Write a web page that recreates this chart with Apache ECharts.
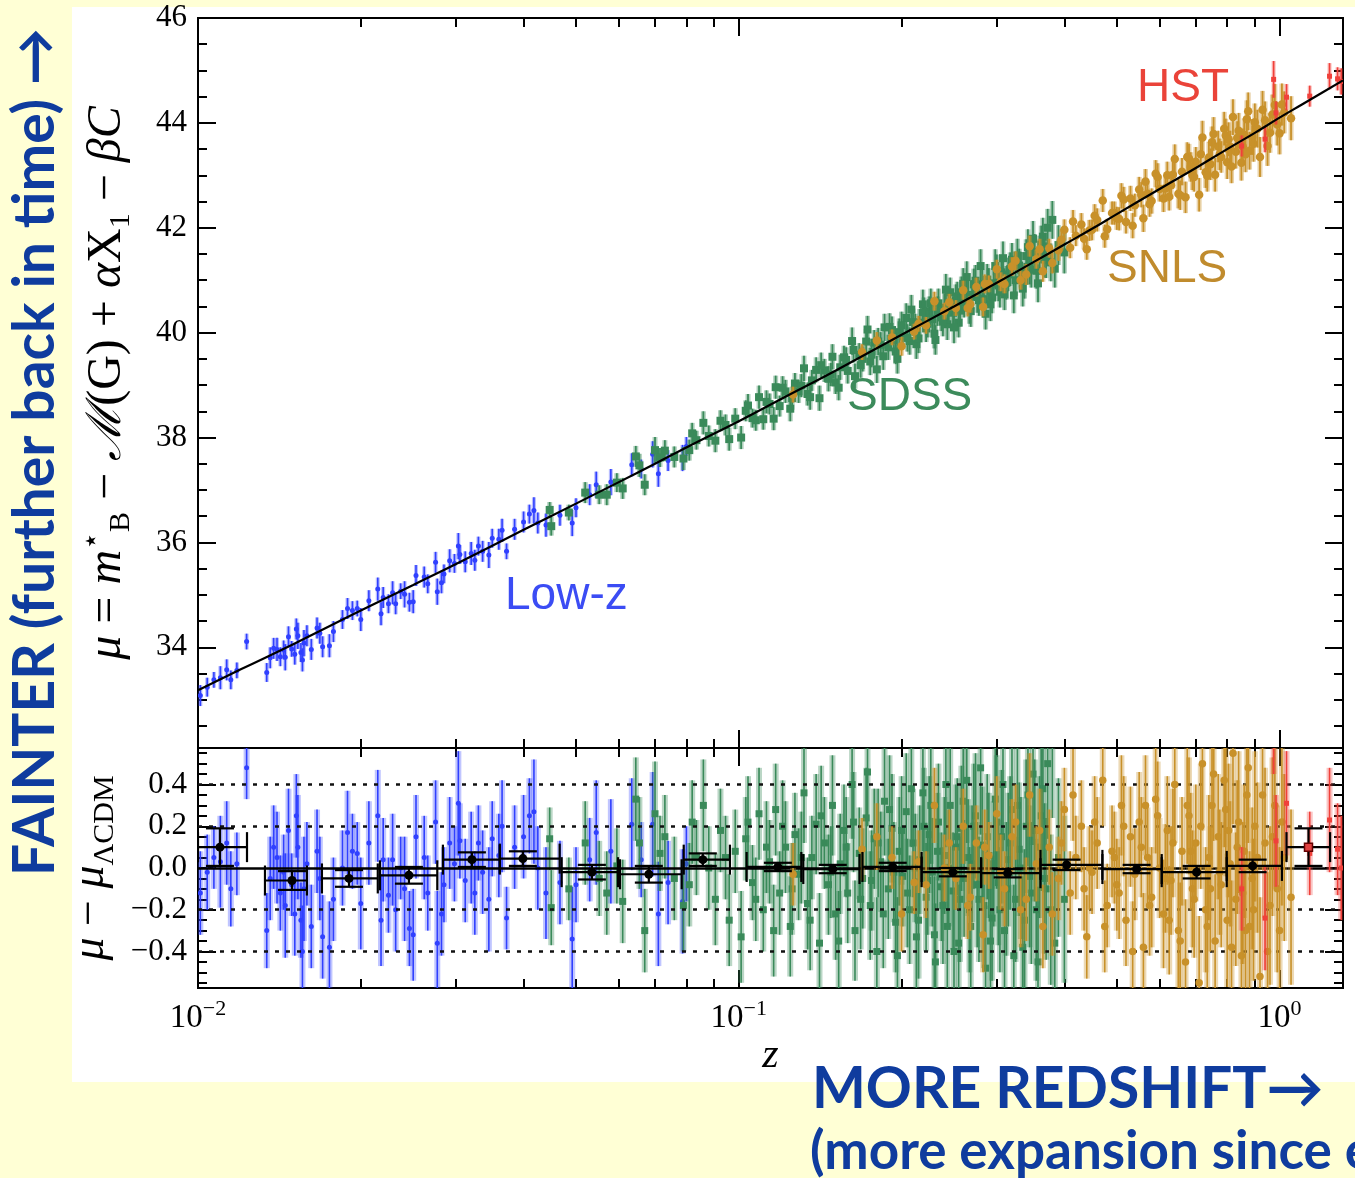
<!DOCTYPE html>
<html><head><meta charset="utf-8">
<script src="https://cdn.jsdelivr.net/npm/echarts@6/dist/echarts.min.js"></script>
<style>
html,body{margin:0;padding:0;background:#FFFFD5;overflow:hidden;}
#panel{position:absolute;left:72px;top:7px;width:1283px;height:1075px;background:#fff;}
#c{position:absolute;left:0;top:0;width:1355px;height:1178px;}
</style>
</head><body><div id="panel"></div><div id="c"></div>
<script>
// ---------- axis ranges & ticks ----------
const xMin = 0.01, xMax = 1.31;
const muMin = 32.08, muMax = 46;
const resMin = -0.575, resMax = 0.575;
const xMajor = [0.01, 0.1, 1];
const xMinor = [0.02,0.03,0.04,0.05,0.06,0.07,0.08,0.09,0.2,0.3,0.4,0.5,0.6,0.7,0.8,0.9];
const xExp = ['−2','−1','0'];
const muMajor = [34,36,38,40,42,44,46];
const muMinor = [32.5,33,33.5,34.5,35,35.5,36.5,37,37.5,38.5,39,39.5,40.5,41,41.5,42.5,43,43.5,44.5,45,45.5];
const resMajor = [-0.4,-0.2,0,0.2,0.4];
const resMinor = [-0.55,-0.5,-0.45,-0.35,-0.3,-0.25,-0.15,-0.1,-0.05,0.05,0.1,0.15,0.25,0.3,0.35,0.45,0.5,0.55];
const resDotted = [0.4,0.2,-0.2,-0.4];

// ---------- LCDM curve ----------
const curveZ  = [0.01,0.012,0.015,0.02,0.025,0.03,0.04,0.05,0.06,0.07,0.08,0.1,0.12,0.15,0.2,0.25,0.3,0.35,0.4,0.45,0.5,0.6,0.7,0.8,0.9,1.0,1.1,1.2,1.31];
const curveMu = [33.18,33.58,34.06,34.70,35.19,35.59,36.24,36.74,37.15,37.50,37.81,38.31,38.74,39.26,39.96,40.50,40.95,41.34,41.68,41.98,42.26,42.74,43.14,43.50,43.81,44.10,44.35,44.58,44.81];

// ---------- Low-z ----------
const lowzZ = [0.0101,0.0104,0.0107,0.0110,0.0113,0.0118,0.0123,0.0134,0.0136,0.0140,0.0142,0.0145,0.0147,0.0149,0.0151,0.0153,0.0155,0.0157,0.0159,0.0162,0.0166,0.0170,0.0175,0.0178,0.0189,0.0193,0.0197,0.0200,0.0215,0.0220,0.0225,0.0229,0.0232,0.0237,0.0241,0.0246,0.0250,0.0262,0.0266,0.0275,0.0277,0.0285,0.0292,0.0303,0.0305,0.0312,0.0320,0.0330,0.0336,0.0345,0.0350,0.0360,0.0372,0.0385,0.0400,0.0410,0.0418,0.0425,0.0467,0.0492,0.0500,0.0530,0.0545,0.0634,0.0660,0.0693,0.0740,0.0787,0.0800,
0.0115,0.0138,0.0144,0.0152,0.0156,0.0168,0.0185,0.0207,0.0218,0.0253,0.0282,0.0298,0.0325,0.0365,0.0440,0.0580,0.0710];
const lowzMu = [33.08,33.24,33.38,33.42,33.57,33.56,34.11,33.52,33.80,33.96,33.82,33.81,34.20,33.97,33.87,34.22,33.90,34.08,34.22,33.96,34.37,34.01,34.03,34.30,34.74,34.70,34.74,34.53,35.11,34.95,34.83,35.04,34.83,35.07,35.01,34.86,34.87,35.34,35.21,35.62,35.06,35.40,35.65,35.93,35.77,35.63,35.79,35.93,35.83,35.76,36.08,36.06,35.83,36.25,36.39,36.54,36.61,36.37,36.52,36.37,36.66,36.91,37.10,37.48,37.40,37.68,37.56,37.61,37.83,
33.38,33.98,33.95,34.35,33.76,34.27,34.53,34.89,34.64,35.37,35.23,35.60,35.66,36.23,36.33,37.15,37.31];
const lowzRes = [-0.12,-0.02,0.05,0.03,0.12,0.02,0.48,-0.30,-0.05,0.05,-0.12,-0.18,0.18,-0.08,-0.22,0.10,-0.25,-0.10,0.02,-0.28,0.08,-0.33,-0.38,-0.15,0.17,0.08,0.07,-0.17,0.25,0.04,-0.13,0.04,-0.20,0.00,-0.10,-0.29,-0.32,0.05,-0.12,0.22,-0.36,-0.08,0.12,0.31,0.13,-0.06,0.05,0.12,-0.02,-0.15,0.14,0.06,-0.24,0.10,0.15,0.25,0.27,0.00,-0.07,-0.34,-0.08,0.04,0.17,0.21,0.04,0.21,-0.07,-0.16,0.02,
-0.10,0.10,-0.02,0.25,-0.40,-0.05,0.00,0.12,-0.25,0.15,-0.22,0.02,-0.12,0.20,-0.12,0.08,-0.22];
const lowzErr = [0.20,0.18,0.15,0.22,0.20,0.15,0.15,0.18,0.20,0.22,0.18,0.25,0.20,0.15,0.20,0.25,0.18,0.25,0.20,0.20,0.20,0.20,0.22,0.20,0.20,0.18,0.15,0.22,0.22,0.20,0.18,0.22,0.20,0.15,0.25,0.18,0.22,0.20,0.18,0.20,0.25,0.18,0.22,0.25,0.18,0.20,0.22,0.18,0.20,0.25,0.18,0.20,0.15,0.20,0.20,0.18,0.25,0.20,0.20,0.25,0.18,0.20,0.25,0.22,0.18,0.25,0.20,0.25,0.18,
0.18,0.20,0.18,0.20,0.22,0.20,0.18,0.20,0.22,0.20,0.20,0.18,0.20,0.22,0.22,0.25,0.25];

// ---------- SDSS ----------
const sdssZ = [0.0447,0.0450,0.0485,0.0520,0.0552,0.0570,0.0595,0.0610,0.0645,0.0655,
0.0670,0.0700,0.0715,0.0760,0.0790,0.0820,0.0835,0.0860,0.0880,0.0905,
0.0925,0.0960,0.0985,0.1010,0.1030,0.1060,0.1090,0.1110,0.1140,0.1170,
0.1190,0.1220,0.1245,0.1270,0.1290,0.1320,0.1340,0.1365,0.1390,0.1410,
0.1440,0.1465,0.1490,0.1510,0.1540,0.1565,0.1590,0.1620,0.1640,0.1670,
0.1695,0.1720,0.1750,0.1780,0.1800,0.1830,0.1860,0.1890,0.1920,0.1950,
0.1980,0.2010,0.2040,0.2070,0.2100,0.2130,0.2160,0.2190,0.2220,0.2250,
0.2280,0.2310,0.2340,0.2370,0.2400,0.2430,0.2460,0.2490,0.2520,0.2550,
0.2580,0.2610,0.2640,0.2670,0.2700,0.2740,0.2780,0.2820,0.2860,0.2900,
0.2940,0.2980,0.3020,0.3060,0.3100,0.3150,0.3200,0.3250,0.3300,0.3350,
0.3400,0.3450,0.3500,0.3550,0.3600,0.3650,0.3700,0.3800,0.3840,0.3900,0.4000,
0.1205,0.1255,0.1305,0.1355,0.1420,0.1480,0.1530,0.1580,0.1630,0.1680,
0.1730,0.1760,0.1810,0.1850,0.1900,0.1935,0.1965,0.2000,0.2050,0.2085,
0.2120,0.2150,0.2200,0.2235,0.2265,0.2300,0.2330,0.2385,0.2415,0.2445,
0.2500,0.2535,0.2565,0.2600,0.2655,0.2685,0.2720,0.2760,0.2800,0.2840,
0.2880,0.2920,0.2960,0.3000,0.3040,0.3080,0.3125,0.3175,0.3225,0.3275,
0.3325,0.3375,0.3425,0.3475,0.3525,0.3575,0.3625,0.3675,0.3725,0.3775,
0.0730,0.0810,0.0945,0.1040,0.1075,0.1125,0.1160];
const sdssMu = [36.62,36.31,36.57,36.95,36.91,36.91,37.14,37.03,37.64,37.47,
37.10,37.76,37.62,37.63,37.60,38.08,37.95,38.28,38.03,37.94,
38.32,37.97,38.36,38.00,38.51,38.37,38.77,38.35,38.64,38.96,
38.60,38.88,38.55,39.03,38.88,39.32,38.83,39.09,39.29,38.75,
39.28,39.12,39.54,39.05,39.34,39.53,39.27,39.84,39.17,39.58,
39.50,39.83,39.45,39.81,39.30,39.77,40.10,39.72,40.05,39.64,
40.01,39.93,40.28,39.84,40.20,39.78,40.19,40.54,40.08,40.41,
40.26,39.86,40.56,40.29,40.47,40.16,40.77,40.38,40.62,40.19,
40.77,40.57,41.06,40.47,40.72,40.99,40.62,40.92,40.36,40.93,
40.67,41.27,40.90,41.15,40.73,41.11,41.39,41.00,41.28,40.84,
41.46,41.26,41.79,41.18,41.51,41.83,41.38,42.15,41.22,41.67,41.53,
38.95,38.75,38.99,38.77,39.38,39.20,38.95,39.48,39.67,39.38,
40.06,39.58,39.83,39.55,40.11,39.86,39.50,40.14,39.90,40.44,
40.10,39.89,40.39,40.17,40.56,39.98,40.41,40.21,40.82,40.45,
40.10,40.69,40.42,40.93,40.71,40.41,40.92,40.68,41.27,40.64,
41.01,40.54,40.94,41.17,40.78,41.42,40.95,41.21,40.71,41.47,
41.20,40.99,41.63,41.20,41.54,40.94,41.68,41.41,42.00,41.34,
37.75,37.76,38.24,38.61,38.33,38.68,38.36];
const sdssRes = [0.14,-0.19,-0.10,0.12,-0.05,-0.12,0.01,-0.16,0.33,0.12,
-0.30,0.26,0.07,-0.05,-0.18,0.22,0.05,0.30,0.00,-0.15,
0.18,-0.25,0.08,-0.33,0.14,-0.07,0.26,-0.20,0.03,0.28,
-0.12,0.10,-0.28,0.16,-0.03,0.36,-0.17,0.05,0.21,-0.36,
0.12,-0.08,0.30,-0.22,0.02,0.18,-0.12,0.40,-0.30,0.07,
-0.05,0.24,-0.18,0.14,-0.40,0.03,0.32,-0.10,0.19,-0.26,
0.08,-0.04,0.27,-0.20,0.12,-0.33,0.04,0.36,-0.14,0.16,
-0.02,-0.45,0.22,-0.09,0.06,-0.28,0.30,-0.11,0.10,-0.36,
0.19,-0.05,0.42,-0.20,0.02,0.25,-0.15,0.11,-0.48,0.06,
-0.24,0.33,-0.07,0.15,-0.30,0.04,0.28,-0.15,0.09,-0.38,
0.20,-0.04,0.45,-0.20,0.10,0.38,-0.10,0.60,-0.36,0.05,-0.15,
0.20,-0.10,0.05,-0.25,0.25,-0.02,-0.35,0.10,0.22,-0.15,
0.46,-0.06,0.12,-0.22,0.28,-0.02,-0.42,0.18,-0.12,0.38,
0.00,-0.25,0.20,-0.06,0.30,-0.32,0.08,-0.18,0.40,0.00,
-0.40,0.15,-0.15,0.32,0.05,-0.28,0.20,-0.08,0.48,-0.18,
0.15,-0.35,0.02,0.22,-0.20,0.40,-0.10,0.12,-0.42,0.30,
0.00,-0.25,0.35,-0.12,0.18,-0.45,0.25,-0.05,0.50,-0.20,
0.15,-0.08,0.05,0.22,-0.15,0.10,-0.30];
const sdssErr = [0.15,0.18,0.15,0.20,0.18,0.20,0.18,0.20,0.20,0.22,
0.20,0.25,0.18,0.20,0.22,0.20,0.18,0.22,0.20,0.22,
0.20,0.22,0.20,0.22,0.20,0.18,0.22,0.20,0.20,0.22,
0.20,0.22,0.24,0.20,0.22,0.24,0.22,0.20,0.24,0.24,
0.22,0.24,0.24,0.22,0.24,0.22,0.24,0.26,0.24,0.22,
0.24,0.24,0.26,0.24,0.26,0.24,0.26,0.24,0.26,0.24,
0.26,0.24,0.28,0.26,0.26,0.28,0.26,0.28,0.26,0.28,
0.26,0.28,0.28,0.26,0.28,0.30,0.28,0.28,0.30,0.28,
0.30,0.28,0.30,0.30,0.28,0.30,0.30,0.28,0.30,0.30,
0.30,0.32,0.30,0.32,0.30,0.32,0.32,0.30,0.32,0.34,
0.32,0.34,0.34,0.34,0.34,0.36,0.34,0.36,0.36,0.38,0.40,
0.22,0.22,0.22,0.24,0.24,0.22,0.24,0.24,0.24,0.24,
0.26,0.24,0.26,0.26,0.26,0.24,0.28,0.26,0.26,0.28,
0.26,0.28,0.28,0.26,0.28,0.28,0.28,0.28,0.30,0.28,
0.30,0.28,0.30,0.30,0.28,0.30,0.30,0.30,0.32,0.30,
0.30,0.32,0.30,0.32,0.30,0.32,0.32,0.32,0.34,0.32,
0.34,0.34,0.34,0.34,0.34,0.36,0.36,0.36,0.36,0.36,
0.20,0.20,0.20,0.22,0.20,0.22,0.22];

// ---------- SNLS ----------
const snlsZ = [0.126,0.169,0.192,0.200,0.211,0.215,0.230,0.240,0.252,0.260,
0.268,0.275,0.283,0.290,0.300,0.310,0.320,0.332,0.345,0.355,
0.365,0.375,0.390,0.400,0.410,0.420,0.430,0.440,0.450,0.460,
0.471,0.480,0.490,0.500,0.510,0.520,0.530,0.540,0.550,0.560,
0.570,0.580,0.590,0.600,0.610,0.620,0.630,0.640,0.650,0.660,
0.670,0.680,0.690,0.700,0.710,0.720,0.730,0.740,0.750,0.760,
0.770,0.780,0.790,0.800,0.810,0.820,0.830,0.840,0.850,0.860,
0.870,0.880,0.890,0.900,0.920,0.940,0.960,0.980,1.000,1.020,1.050,
0.305,0.325,0.340,0.360,0.380,0.395,0.415,0.435,0.455,0.475,
0.495,0.515,0.535,0.555,0.575,0.595,0.615,0.635,0.655,0.675,
0.695,0.715,0.735,0.755,0.775,0.795,0.815,0.835,0.855,0.875,
0.895,0.910,0.930,0.950,0.970,0.990,1.010,0.445,0.505,0.565,
0.625,0.685,0.745,0.805,0.865,0.285,0.265,0.245,0.222,0.180];
const snlsMu = [38.82,39.63,39.91,39.74,40.02,40.17,40.60,40.41,40.47,40.81,
40.54,40.87,40.49,40.93,41.21,40.93,41.26,41.00,41.65,41.40,
41.17,41.61,41.57,41.96,41.62,41.85,42.06,41.59,41.96,42.15,
42.52,41.97,42.28,42.18,42.61,42.11,42.56,42.43,42.73,42.18,
42.65,42.51,43.03,42.74,42.56,43.00,42.81,43.31,42.65,43.07,
42.58,43.32,43.00,43.26,42.63,43.72,43.06,43.34,43.63,43.01,
43.55,43.35,43.89,43.25,43.55,44.11,43.45,43.85,43.24,43.77,
44.07,43.47,43.73,44.01,43.35,44.05,43.81,44.34,43.80,44.20,44.09,
40.97,41.37,41.11,41.59,41.33,41.77,42.12,41.79,42.23,41.84,
42.28,42.54,42.04,42.63,42.45,42.97,42.75,43.01,42.62,43.35,
42.97,43.40,42.99,43.79,43.40,43.76,43.17,43.71,43.55,44.22,
43.60,43.89,44.25,43.56,44.16,43.97,44.35,41.95,42.17,42.88,
42.59,43.16,43.21,43.69,43.40,40.93,40.47,40.58,40.14,39.85];
const snlsRes = [-0.03,0.09,0.05,-0.22,-0.07,0.03,0.30,0.00,-0.05,0.20,
-0.14,0.12,-0.32,0.06,0.26,-0.10,0.15,-0.20,0.35,0.02,
-0.28,0.10,-0.05,0.28,-0.12,0.05,0.20,-0.33,-0.02,0.12,
0.42,-0.18,0.08,-0.08,0.30,-0.25,0.15,-0.03,0.22,-0.38,
0.05,-0.14,0.33,0.00,-0.22,0.18,-0.06,0.40,-0.30,0.08,
-0.45,0.25,-0.10,0.12,-0.55,0.50,-0.20,0.05,0.30,-0.35,
0.15,-0.08,0.42,-0.25,0.02,0.55,-0.15,0.22,-0.42,0.08,
0.35,-0.28,-0.05,0.20,-0.52,0.12,-0.18,0.30,-0.30,0.05,-0.14,
-0.02,0.22,-0.15,0.18,-0.22,0.12,0.35,-0.10,0.22,-0.28,
0.05,0.20,-0.40,0.10,-0.18,0.25,-0.05,0.12,-0.35,0.30,
-0.15,0.20,-0.28,0.45,-0.02,0.28,-0.38,0.10,-0.12,0.48,
-0.20,0.05,0.35,-0.40,0.15,-0.10,0.22,0.00,-0.12,0.30,
-0.25,0.08,-0.10,0.18,-0.30,0.10,-0.18,0.12,-0.08,0.15];
const snlsErr = [0.15,0.15,0.15,0.18,0.15,0.15,0.18,0.16,0.15,0.18,
0.16,0.18,0.18,0.16,0.18,0.18,0.18,0.18,0.20,0.18,
0.20,0.18,0.20,0.20,0.20,0.20,0.22,0.20,0.20,0.22,
0.22,0.20,0.22,0.22,0.24,0.22,0.24,0.22,0.24,0.26,
0.24,0.24,0.26,0.24,0.26,0.26,0.26,0.28,0.28,0.26,
0.30,0.28,0.28,0.28,0.32,0.32,0.30,0.30,0.30,0.32,
0.30,0.30,0.32,0.32,0.30,0.34,0.32,0.34,0.34,0.32,
0.36,0.36,0.34,0.36,0.38,0.36,0.38,0.40,0.40,0.40,0.42,
0.18,0.18,0.20,0.20,0.20,0.20,0.22,0.20,0.22,0.22,
0.22,0.24,0.24,0.24,0.24,0.26,0.26,0.26,0.28,0.28,
0.28,0.30,0.30,0.32,0.30,0.32,0.32,0.32,0.34,0.36,
0.34,0.36,0.36,0.38,0.38,0.40,0.40,0.20,0.22,0.24,
0.26,0.28,0.30,0.32,0.34,0.18,0.16,0.16,0.16,0.16];

// ---------- HST ----------
const hstZ = [0.851,0.940,0.975,0.985,1.030,1.137,1.237,1.280,1.300];
const hstMu = [43.56,43.69,44.83,44.19,44.49,44.51,44.89,44.84,44.79];
const hstRes = [-0.10,-0.24,0.80,0.13,0.31,0.07,0.23,0.09,0.00];
const hstErr = [0.20,0.25,0.35,0.22,0.25,0.20,0.25,0.22,0.25];

// ---------- binned residuals ----------
const binZ   = [0.01098,0.01492,0.01902,0.02455,0.03210,0.03988,0.05350,0.06818,0.08580,0.1181,0.1492,0.1926,0.2487,0.3142,0.4038,0.5441,0.7024,0.8916];
const binRes = [0.10,-0.06,-0.05,-0.035,0.04,0.045,-0.02,-0.03,0.04,0.005,-0.005,0.005,-0.02,-0.025,0.015,-0.005,-0.02,0.01];
const binErr = [0.09,0.045,0.04,0.04,0.035,0.035,0.035,0.04,0.03,0.02,0.02,0.02,0.02,0.02,0.025,0.02,0.03,0.03];
const binLo  = [0.0100,0.01330,0.01695,0.02170,0.02837,0.03615,0.04704,0.06030,0.07910,0.1034,0.1316,0.1693,0.2178,0.2806,0.3613,0.4703,0.6054,0.7985];
const binHi  = [0.01232,0.01590,0.02150,0.02770,0.03615,0.04664,0.05979,0.07842,0.09630,0.1305,0.1672,0.2178,0.2806,0.3613,0.4703,0.6054,0.7985,1.010];
const hstBinZ = [1.131], hstBinRes = [0.10], hstBinErr = [0.09], hstBinLo = [1.03], hstBinHi = [1.24];

// ---------- helpers ----------
function rows() {
  const cols = Array.from(arguments);
  const n = Math.min.apply(null, cols.map(c => c.length));
  const out = [];
  for (let i = 0; i < n; i++) out.push(cols.map(c => c[i]));
  return out;
}
const SERIF = "'Liberation Serif','Times New Roman',serif";
const SANS = "'Liberation Sans',Arial,Helvetica,sans-serif";
const HAND = "'Comic Sans MS','Lato','Open Sans',sans-serif";
const lineBlack = {color:'#000', width:2};

function xAxisDef(gi, pos, ticks, len, extra) {
  return Object.assign({
    type:'log', logBase:10, gridIndex:gi, position:pos, min:xMin, max:xMax,
    axisLine:{show:true, onZero:false, lineStyle:lineBlack},
    axisTick:{show:true, inside:true, length:len, customValues:ticks, lineStyle:lineBlack},
    axisLabel:{show:false},
    splitLine:{show:false}, minorTick:{show:false}, minorSplitLine:{show:false},
    axisPointer:{show:false}
  }, extra || {});
}
function yAxisDef(gi, pos, min, max, ticks, len, extra) {
  return Object.assign({
    type:'value', gridIndex:gi, position:pos, min:min, max:max,
    axisLine:{show:true, onZero:false, lineStyle:lineBlack},
    axisTick:{show:true, inside:true, length:len, customValues:ticks, lineStyle:lineBlack},
    axisLabel:{show:false},
    splitLine:{show:false}, minorTick:{show:false}, minorSplitLine:{show:false},
    axisPointer:{show:false}
  }, extra || {});
}

function pointSeries(name, data, xi, yi, st) {
  return {
    name:name, type:'custom', xAxisIndex:xi, yAxisIndex:yi, clip:true, silent:true,
    encode:{x:0, y:1}, data:data, z:st.z || 3,
    renderItem:function(params, api) {
      const x = api.value(0), y = api.value(1), e = api.value(2);
      const p = api.coord([x, y]), t = api.coord([x, y + e]), b = api.coord([x, y - e]);
      const ch = [
        {type:'line', shape:{x1:p[0], y1:t[1], x2:p[0], y2:b[1]}, style:{stroke:st.light, lineWidth:st.lw}},
        {type:'line', shape:{x1:p[0], y1:t[1], x2:p[0], y2:b[1]}, style:{stroke:st.dark, lineWidth:st.dw}}
      ];
      const s = st.size;
      if (st.shape === 'rect') ch.push({type:'rect', shape:{x:p[0]-s/2, y:p[1]-s/2, width:s, height:s}, style:{fill:st.fill}});
      else ch.push({type:'circle', shape:{cx:p[0], cy:p[1], r:s/2}, style:{fill:st.fill}});
      return {type:'group', children:ch};
    }
  };
}
function binSeries(name, data, st) {
  return {
    name:name, type:'custom', xAxisIndex:4, yAxisIndex:4, clip:true, silent:true,
    encode:{x:0, y:1}, data:data, z:12,
    renderItem:function(params, api) {
      const z = api.value(0), r = api.value(1), e = api.value(2), lo = api.value(3), hi = api.value(4);
      const c = api.coord([z, r]), l = api.coord([lo, r]), h = api.coord([hi, r]);
      const t = api.coord([z, r + e]), b = api.coord([z, r - e]);
      const cap = 15, w = 14, ls = {stroke:'#000', lineWidth:2.2};
      const ch = [
        {type:'line', shape:{x1:l[0], y1:c[1], x2:h[0], y2:c[1]}, style:ls},
        {type:'line', shape:{x1:l[0], y1:c[1]-cap, x2:l[0], y2:c[1]+cap}, style:ls},
        {type:'line', shape:{x1:h[0], y1:c[1]-cap, x2:h[0], y2:c[1]+cap}, style:ls},
        {type:'line', shape:{x1:c[0], y1:t[1], x2:c[0], y2:b[1]}, style:ls},
        {type:'line', shape:{x1:c[0]-w, y1:t[1], x2:c[0]+w, y2:t[1]}, style:ls},
        {type:'line', shape:{x1:c[0]-w, y1:b[1], x2:c[0]+w, y2:b[1]}, style:ls}
      ];
      if (st.shape === 'rect') ch.push({type:'rect', shape:{x:c[0]-4, y:c[1]-4, width:8, height:8}, style:{fill:st.fill, stroke:'#600', lineWidth:1.5}});
      else ch.push({type:'circle', shape:{cx:c[0], cy:c[1], r:4.5}, style:{fill:st.fill}});
      return {type:'group', children:ch};
    }
  };
}

const BLUE_T = {dark:'#3040ff', light:'rgba(48,64,255,0.35)', fill:'#3040ff', shape:'circle', size:5, lw:4, dw:1.6, z:3};
const GREEN_T = {dark:'#3a8a5a', light:'rgba(58,138,90,0.4)', fill:'#3a8a5a', shape:'rect', size:8, lw:5, dw:1.8, z:4};
const GOLD_T = {dark:'#c8912a', light:'rgba(200,145,42,0.4)', fill:'#c8912a', shape:'circle', size:8.5, lw:5, dw:1.8, z:5};
const RED_T = {dark:'#f0403a', light:'rgba(240,64,58,0.35)', fill:'#f0403a', shape:'rect', size:5, lw:4, dw:1.6, z:6};
const BLUE_B = {dark:'#3040ff', light:'rgba(48,64,255,0.3)', fill:'#3040ff', shape:'circle', size:5, lw:6, dw:1.6, z:3};
const GREEN_B = {dark:'#3a8a5a', light:'rgba(58,138,90,0.35)', fill:'#3a8a5a', shape:'rect', size:7, lw:6, dw:1.6, z:4};
const GOLD_B = {dark:'#c8912a', light:'rgba(200,145,42,0.35)', fill:'#c8912a', shape:'circle', size:7.5, lw:6, dw:1.6, z:5};
const RED_B = {dark:'#f0403a', light:'rgba(240,64,58,0.3)', fill:'#f0403a', shape:'rect', size:5, lw:6, dw:1.6, z:6};

const chart = echarts.init(document.getElementById('c'), null, {renderer:'canvas'});

const option = {
  animation:false,
  backgroundColor:'transparent',
  grid:[
    {left:198, top:18, width:1145, height:730, outerBoundsMode:'none', containLabel:false},
    {left:198, top:748, width:1145, height:240, outerBoundsMode:'none', containLabel:false}
  ],
  xAxis:[
    xAxisDef(0,'bottom',xMajor,18),
    xAxisDef(0,'bottom',xMinor,9),
    xAxisDef(0,'top',xMajor,18),
    xAxisDef(0,'top',xMinor,9),
    xAxisDef(1,'bottom',xMajor,18,{
      axisLabel:{show:true, customValues:xMajor, margin:10,
        formatter:function(v){ const i = Math.round(Math.log10(v)) + 2; return '{b|10}{s|' + xExp[i] + '}'; },
        rich:{b:{fontFamily:SERIF, fontSize:33, color:'#000', lineHeight:40},
              s:{fontFamily:SERIF, fontSize:22, color:'#000', lineHeight:24, verticalAlign:'top'}}},
      name:'z', nameLocation:'middle', nameGap:44,
      nameTextStyle:{fontFamily:SERIF, fontStyle:'italic', fontSize:42, color:'#000'}
    }),
    xAxisDef(1,'bottom',xMinor,9),
    xAxisDef(1,'top',xMajor,18),
    xAxisDef(1,'top',xMinor,9)
  ],
  yAxis:[
    yAxisDef(0,'left',muMin,muMax,muMajor,18,{
      axisLabel:{show:true, customValues:muMajor, margin:11, fontFamily:SERIF, fontSize:31, color:'#000',
        formatter:function(v){ return String(Math.round(v)); }},
      name:'{i|μ} = {i|m}{sup|⋆}{sub|B} − {i|ℳ}(G) + {i|α}X{sub|1} − {i|βC}',
      nameLocation:'middle', nameRotate:90, nameGap:62,
      nameTextStyle:{fontFamily:SERIF, fontSize:48, color:'#000', lineHeight:58,
        rich:{i:{fontFamily:SERIF, fontStyle:'italic', fontSize:48, color:'#000', lineHeight:58},
              sup:{fontFamily:SERIF, fontSize:29, color:'#000', lineHeight:32, verticalAlign:'top'},
              sub:{fontFamily:SERIF, fontSize:30, color:'#000', lineHeight:32, verticalAlign:'bottom'}}}
    }),
    yAxisDef(0,'left',muMin,muMax,muMinor,9),
    yAxisDef(0,'right',muMin,muMax,muMajor,18),
    yAxisDef(0,'right',muMin,muMax,muMinor,9),
    yAxisDef(1,'left',resMin,resMax,resMajor,18,{
      axisLabel:{show:true, customValues:resMajor, margin:11, fontFamily:SERIF, fontSize:31, color:'#000',
        formatter:function(v){ if (Math.abs(v) < 1e-9) return '0.0'; return (v < 0 ? '−' : '') + Math.abs(v).toFixed(1); }},
      name:'{i|μ} − {i|μ}{sub|ΛCDM}',
      nameLocation:'middle', nameRotate:90, nameGap:62,
      nameTextStyle:{fontFamily:SERIF, fontSize:46, color:'#000', lineHeight:58,
        rich:{i:{fontFamily:SERIF, fontStyle:'italic', fontSize:46, color:'#000', lineHeight:58},
              sub:{fontFamily:SERIF, fontSize:30, color:'#000', lineHeight:32, verticalAlign:'bottom'}}}
    }),
    yAxisDef(1,'left',resMin,resMax,resMinor,9),
    yAxisDef(1,'right',resMin,resMax,resMajor,18),
    yAxisDef(1,'right',resMin,resMax,resMinor,9)
  ],
  graphic:[
    {type:'text', left:1137, top:65, z:50, silent:true,
      style:{text:'HST', font:'46px ' + SANS, fill:'#ea4339'}},
    {type:'text', left:1107, top:246, z:50, silent:true,
      style:{text:'SNLS', font:'46px ' + SANS, fill:'#c08b2d'}},
    {type:'text', left:847, top:374, z:50, silent:true,
      style:{text:'SDSS', font:'46px ' + SANS, fill:'#3c8b5b'}},
    {type:'text', left:505, top:573, z:50, silent:true,
      style:{text:'Low-z', font:'46px ' + SANS, fill:'#3b4cf4'}},
    {type:'text', x:36, y:452, rotation:Math.PI/2, z:50, silent:true,
      style:{text:'FAINTER (further back in time) →', font:'bold 57px ' + HAND,
        fill:'#0f3c9e', align:'center', verticalAlign:'middle'}},
    {type:'text', x:812, y:1090, z:50, silent:true,
      style:{text:'MORE REDSHIFT→', font:'bold 57px ' + HAND,
        fill:'#0f3c9e', align:'left', verticalAlign:'middle'}},
    {type:'text', x:810, y:1152, z:50, silent:true,
      style:{text:'(more expansion since e', font:'bold 53px ' + HAND,
        fill:'#0f3c9e', align:'left', verticalAlign:'middle'}}
  ],
  series:[
    // top panel
    pointSeries('Low-z', rows(lowzZ, lowzMu, lowzErr), 0, 0, BLUE_T),
    pointSeries('SDSS', rows(sdssZ, sdssMu, sdssErr), 0, 0, GREEN_T),
    pointSeries('SNLS', rows(snlsZ, snlsMu, snlsErr), 0, 0, GOLD_T),
    pointSeries('HST', rows(hstZ, hstMu, hstErr), 0, 0, RED_T),
    {name:'LCDM', type:'line', xAxisIndex:0, yAxisIndex:0, data:rows(curveZ, curveMu), showSymbol:false, symbol:'none',
      smooth:true, lineStyle:{color:'#000', width:2.2}, z:10, silent:true},
    // bottom panel
    {name:'grid', type:'line', xAxisIndex:4, yAxisIndex:4, data:[], z:1, silent:true,
      markLine:{symbol:['none','none'], silent:true, label:{show:false},
        lineStyle:{color:'#111', width:2.5, type:[4,7]},
        data:resDotted.map(v => ({yAxis:v}))}},
    pointSeries('Low-z res', rows(lowzZ, lowzRes, lowzErr), 4, 4, BLUE_B),
    pointSeries('SDSS res', rows(sdssZ, sdssRes, sdssErr), 4, 4, GREEN_B),
    pointSeries('SNLS res', rows(snlsZ, snlsRes, snlsErr), 4, 4, GOLD_B),
    pointSeries('HST res', rows(hstZ, hstRes, hstErr), 4, 4, RED_B),
    {name:'zero', type:'line', xAxisIndex:4, yAxisIndex:4, data:[], z:11, silent:true,
      markLine:{symbol:['none','none'], silent:true, label:{show:false},
        lineStyle:{color:'#000', width:2.5, type:'solid'},
        data:[{yAxis:0}]}},
    binSeries('bins', rows(binZ, binRes, binErr, binLo, binHi), {fill:'#000', shape:'circle'}),
    binSeries('hst bin', rows(hstBinZ, hstBinRes, hstBinErr, hstBinLo, hstBinHi), {fill:'#e04040', shape:'rect'})
  ]
};
chart.setOption(option);
</script>
</body></html>
